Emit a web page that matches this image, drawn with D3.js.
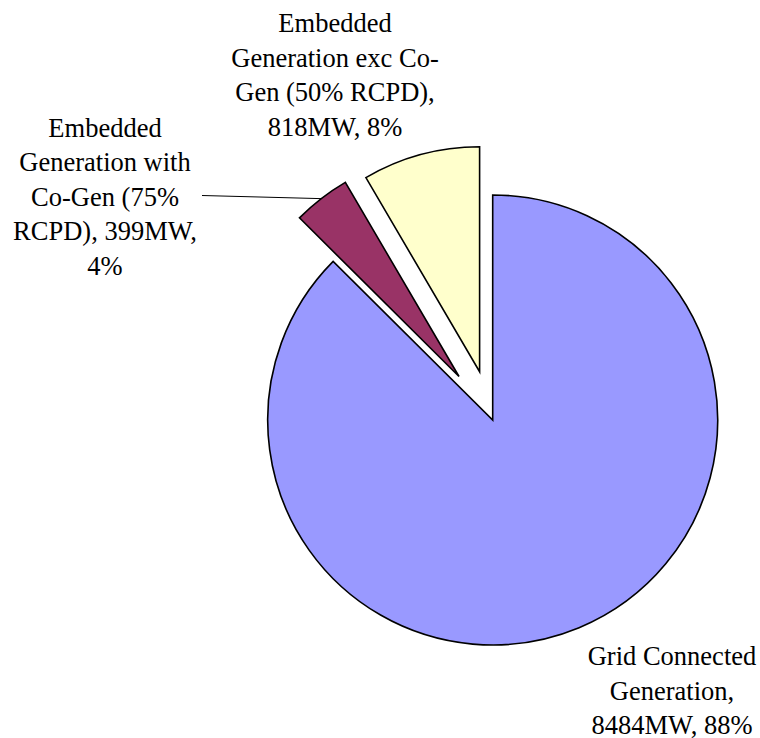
<!DOCTYPE html>
<html>
<head>
<meta charset="utf-8">
<script src="https://cdn.jsdelivr.net/npm/d3@7"></script>
<style>
  html, body { margin: 0; padding: 0; background: #fff; }
  svg { display: block; }
</style>
</head>
<body>
<svg id="chart" width="760" height="738"></svg>
<script>
// Generation capacity by source (MW)
const categories = [
  "Grid Connected Generation",
  "Embedded Generation with Co-Gen (75% RCPD)",
  "Embedded Generation exc Co-Gen (50% RCPD)"
];
const valuesMW = [8484, 399, 818];
const percentLabels = ["88%", "4%", "8%"];
const labelLines = [
  ["Grid Connected", "Generation,", "8484MW, 88%"],
  ["Embedded", "Generation with", "Co-Gen (75%", "RCPD), 399MW,", "4%"],
  ["Embedded", "Generation exc Co-", "Gen (50% RCPD),", "818MW, 8%"]
];
const colors = ["#9999FF", "#993366", "#FFFFCC"];

// Layout
const cx = 492.7, cy = 420, radius = 225;
const explode = [0, 55, 50];                 // slice offsets, px
const labelPos = [                            // centre x, first baseline y
  { x: 672, y: 665 },
  { x: 105, y: 136.5 },
  { x: 335, y: 32 }
];
const lineHeight = 34.5;
const serif = "'Liberation Serif', 'Times New Roman', Times, 'DejaVu Serif', serif";

const svg = d3.select("#chart");
const g = svg.append("g").attr("transform", `translate(${cx},${cy})`);

const pie = d3.pie().sort(null).startAngle(0).endAngle(2 * Math.PI).value(d => d);
const arcs = pie(valuesMW);
const arc = d3.arc().innerRadius(0).outerRadius(radius);

const offsetOf = (d, i) => {
  const a = (d.startAngle + d.endAngle) / 2;
  return [Math.sin(a) * explode[i], -Math.cos(a) * explode[i]];
};

g.selectAll("path.slice")
  .data(arcs)
  .join("path")
  .attr("class", "slice")
  .attr("transform", (d, i) => { const o = offsetOf(d, i); return `translate(${o[0]},${o[1]})`; })
  .attr("d", arc)
  .attr("fill", (d, i) => colors[i])
  .attr("stroke", "#000")
  .attr("stroke-width", 1.6)
  .attr("stroke-linejoin", "miter");

// Leader line from the Co-Gen label to its slice's outer edge
{
  const d = arcs[1];
  const a = (d.startAngle + d.endAngle) / 2;
  const o = offsetOf(d, 1);
  const ex = o[0] + Math.sin(a) * radius;
  const ey = o[1] - Math.cos(a) * radius;
  g.append("line")
    .attr("x1", 202 - cx).attr("y1", 195.5 - cy)
    .attr("x2", ex).attr("y2", ey)
    .attr("stroke", "#000")
    .attr("stroke-width", 1);
}

// Data labels
svg.selectAll("text.label")
  .data(labelLines)
  .join("text")
  .attr("class", "label")
  .attr("text-anchor", "middle")
  .style("font-family", serif)
  .style("font-size", "26.5px")
  .style("fill", "#000")
  .each(function (lines, i) {
    d3.select(this).selectAll("tspan")
      .data(lines)
      .join("tspan")
      .attr("x", labelPos[i].x)
      .attr("y", (t, j) => labelPos[i].y + j * lineHeight)
      .text(t => t);
  });
</script>
</body>
</html>
